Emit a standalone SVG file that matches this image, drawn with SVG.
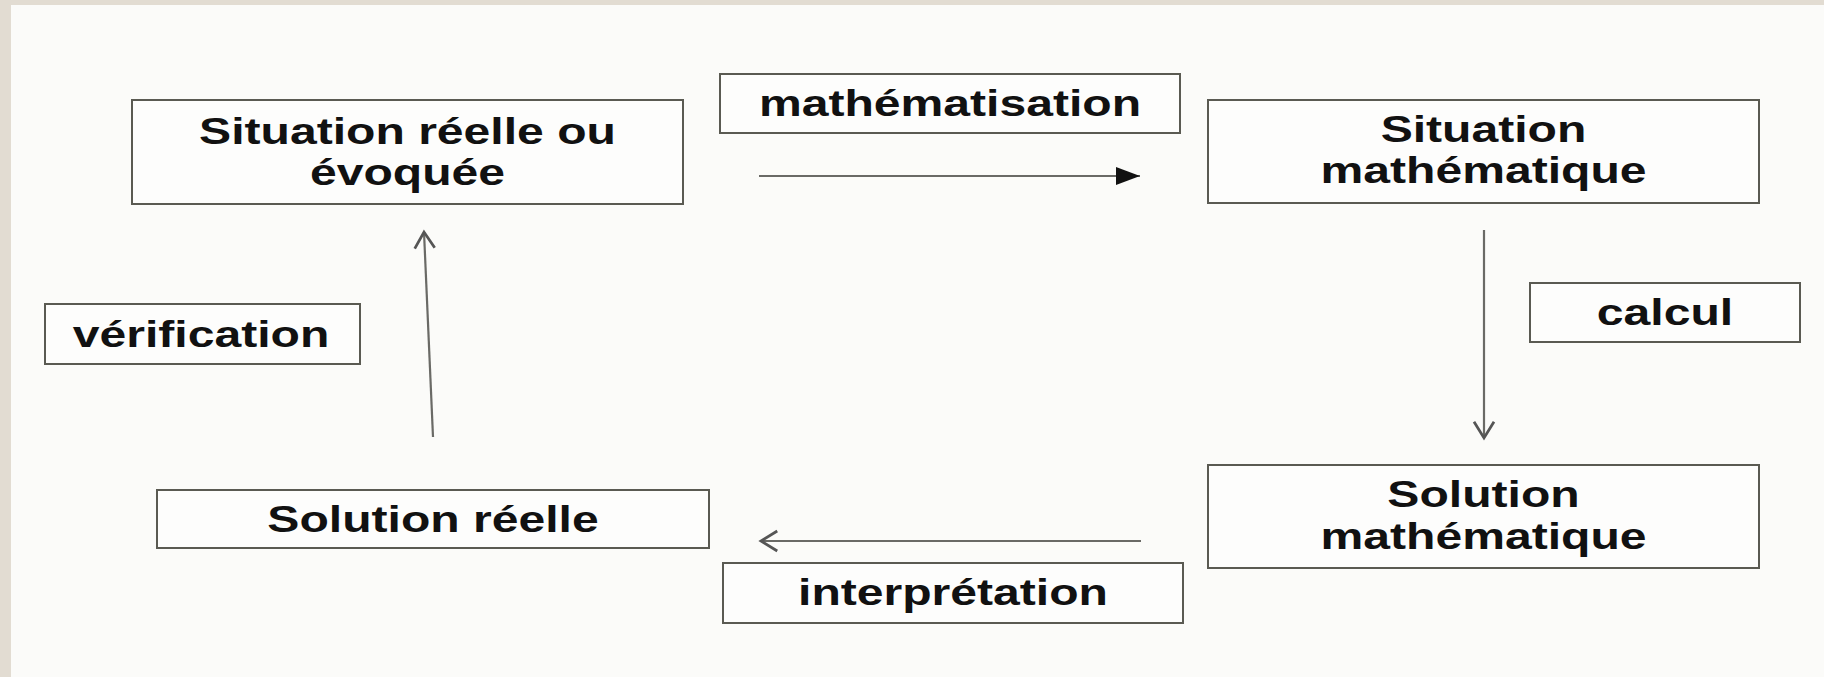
<svg xmlns="http://www.w3.org/2000/svg" width="1824" height="677" viewBox="0 0 1824 677">
  <style>
    .box { fill: #fdfdfc; stroke: #5a5a52; stroke-width: 2; }
    .lbl { font-family: "Liberation Sans", Arial, sans-serif; font-weight: bold; font-size: 37px; fill: #111; text-anchor: middle; }
    .conn { stroke: #6a6a66; stroke-width: 2.2; fill: none; }
  </style>
  <defs>
    <marker id="open" markerUnits="userSpaceOnUse" markerWidth="30" markerHeight="30" viewBox="-16 -12 20 24" refX="0" refY="0" orient="auto">
      <path d="M-13,-8 L0,0 L-13,8" fill="none" stroke="#555" stroke-width="2.2"/>
    </marker>
    <marker id="filled" markerUnits="userSpaceOnUse" markerWidth="30" markerHeight="30" viewBox="-18 -10 20 20" refX="0" refY="0" orient="auto">
      <path d="M-16,-6 L0,0 L-16,6 Z" fill="#111" stroke="none"/>
    </marker>
  </defs>

  <rect x="0" y="0" width="1824" height="677" fill="#e2dcd2"/>
  <rect x="11" y="5" width="1813" height="672" fill="#fbfbf9"/>

  <g id="connectors">
    <line class="conn" x1="759" y1="176" x2="1140" y2="176" marker-end="url(#filled)"/>
    <line class="conn" x1="1484" y1="230" x2="1484" y2="438" marker-end="url(#open)"/>
    <line class="conn" x1="1141" y1="541" x2="761" y2="541" marker-end="url(#open)"/>
    <line class="conn" x1="433" y1="437" x2="424" y2="232" marker-end="url(#open)"/>
  </g>

  <g id="node-situation-reelle">
    <rect class="box" x="132" y="100" width="551" height="104"/>
    <text class="lbl" transform="translate(407.5,144) scale(1.3,1)">Situation réelle ou</text>
    <text class="lbl" transform="translate(407.5,185) scale(1.3,1)">évoquée</text>
  </g>

  <g id="node-situation-math">
    <rect class="box" x="1208" y="100" width="551" height="103"/>
    <text class="lbl" transform="translate(1483.5,142) scale(1.3,1)">Situation</text>
    <text class="lbl" transform="translate(1483.5,183) scale(1.3,1)">mathématique</text>
  </g>

  <g id="node-solution-math">
    <rect class="box" x="1208" y="465" width="551" height="103"/>
    <text class="lbl" transform="translate(1483.5,507) scale(1.3,1)">Solution</text>
    <text class="lbl" transform="translate(1483.5,549) scale(1.3,1)">mathématique</text>
  </g>

  <g id="node-solution-reelle">
    <rect class="box" x="157" y="490" width="552" height="58"/>
    <text class="lbl" transform="translate(433,532) scale(1.3,1)">Solution réelle</text>
  </g>

  <g id="label-mathematisation">
    <rect class="box" x="720" y="74" width="460" height="59"/>
    <text class="lbl" transform="translate(950,116) scale(1.3,1)">mathématisation</text>
  </g>

  <g id="label-calcul">
    <rect class="box" x="1530" y="283" width="270" height="59"/>
    <text class="lbl" transform="translate(1665,325) scale(1.3,1)">calcul</text>
  </g>

  <g id="label-interpretation">
    <rect class="box" x="723" y="563" width="460" height="60"/>
    <text class="lbl" transform="translate(953,605) scale(1.3,1)">interprétation</text>
  </g>

  <g id="label-verification">
    <rect class="box" x="45" y="304" width="315" height="60"/>
    <text class="lbl" transform="translate(201,347) scale(1.3,1)">vérification</text>
  </g>
</svg>
